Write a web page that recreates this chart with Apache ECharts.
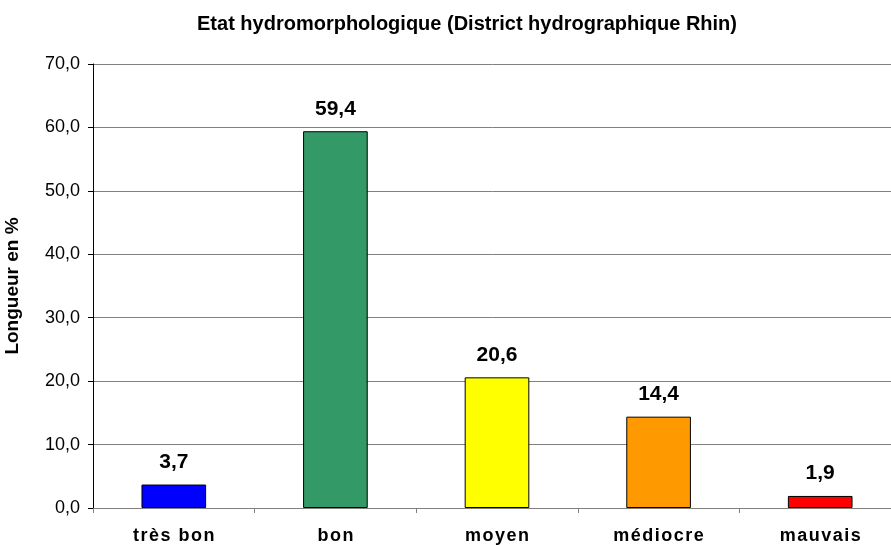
<!DOCTYPE html>
<html>
<head>
<meta charset="utf-8">
<script src="https://cdn.jsdelivr.net/npm/echarts@6/dist/echarts.min.js"></script>
<style>
	html, body { margin: 0; padding: 0; background: #fff; }
	#chart { width: 891px; height: 545px; }
</style>
</head>
<body>
<div id="chart"></div>
<script>
	var categories = ['très bon', 'bon', 'moyen', 'médiocre', 'mauvais']
	var values = [3.7, 59.4, 20.6, 14.4, 1.9]
	var barColors = ['#0000ff', '#339966', '#ffff00', '#ff9900', '#ff0000']

	var fmt = function (v) {
		return Number(v).toFixed(1).replace('.', ',')
	}

	var chart = echarts.init(document.getElementById('chart'))
	var seriesData = []
	for (var i = 0; i < values.length; i++) {
		seriesData.push({
			value: values[i],
			itemStyle: { color: barColors[i] }
		})
	}

	chart.setOption({
		animation: false,
		textStyle: { fontFamily: 'Liberation Sans, Arial, sans-serif' },
		title: {
			text: 'Etat hydromorphologique (District hydrographique Rhin)',
			left: 462,
			top: 9,
			textAlign: 'center',
			textStyle: { fontSize: 20, fontWeight: 'bold', color: '#000' }
		},
		grid: { left: 93, width: 808, top: 64, bottom: 37, outerBoundsMode: 'none' },
		xAxis: {
			type: 'category',
			data: categories,
			axisLine: { lineStyle: { color: '#808080', width: 1 } },
			axisTick: { show: true, alignWithLabel: false, length: 5, lineStyle: { color: '#808080' } },
			axisLabel: {
				color: '#000',
				fontSize: 18,
				fontWeight: 'bold',
				margin: 19,
				formatter: function (v) { return v.split('').join('\u200a') }
			}
		},
		yAxis: {
			type: 'value',
			min: 0,
			max: 70,
			interval: 10,
			name: 'Longueur en %',
			nameLocation: 'middle',
			nameGap: 71,
			nameTextStyle: { fontSize: 19, fontWeight: 'bold', color: '#000' },
			axisLine: { show: true, lineStyle: { color: '#000', width: 1 } },
			axisTick: { show: true, length: 5, lineStyle: { color: '#000' } },
			axisLabel: { color: '#000', fontSize: 18, margin: 13, formatter: fmt },
			splitLine: { lineStyle: { color: '#808080', width: 1 } }
		},
		series: [{
			type: 'bar',
			barWidth: '40%',
			data: seriesData,
			itemStyle: { borderColor: '#000', borderWidth: 1 },
			label: {
				show: true,
				position: 'top',
				distance: 12,
				fontSize: 21,
				fontWeight: 'bold',
				color: '#000',
				formatter: function (p) { return fmt(p.value) }
			}
		}]
	})
</script>
</body>
</html>
